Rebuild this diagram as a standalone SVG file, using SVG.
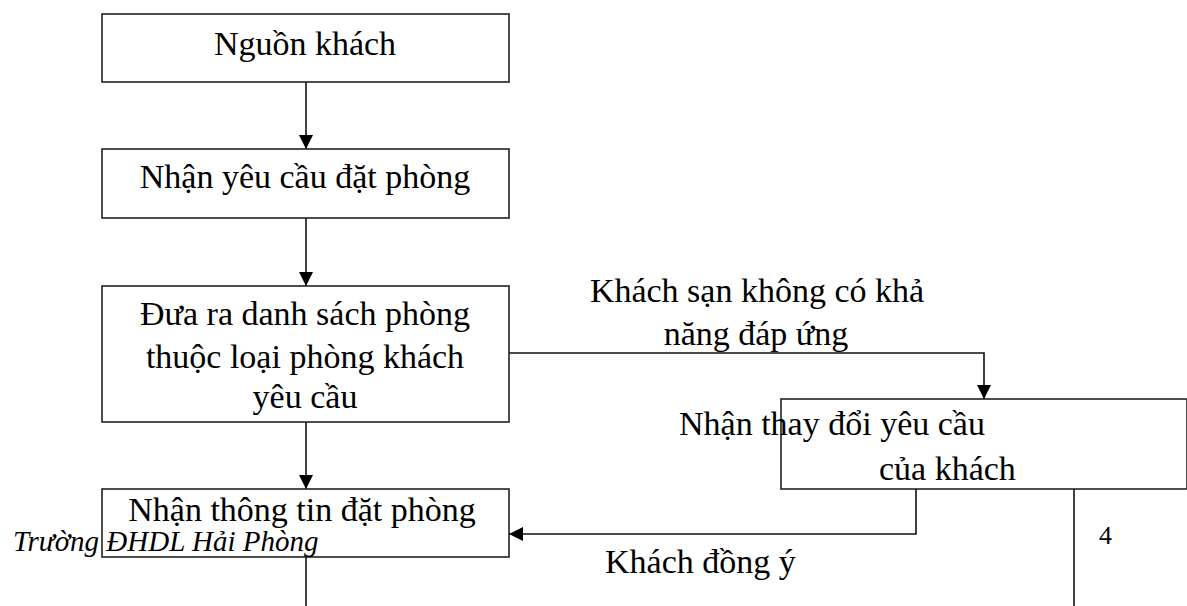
<svg xmlns="http://www.w3.org/2000/svg" width="1187" height="606" viewBox="0 0 1187 606">
  <style>
    .box { fill: #ffffff; stroke: #222222; stroke-width: 1.6; }
    .link { fill: none; stroke: #111111; stroke-width: 1.6; }
    .t { font-family: "Liberation Serif", "Times New Roman", serif; font-size: 34px; fill: #000000; }
    .mid { text-anchor: middle; }
    .foot { font-family: "Liberation Serif", "Times New Roman", serif; font-size: 29px; font-style: italic; fill: #000000; }
    .num { font-family: "Liberation Serif", "Times New Roman", serif; font-size: 26px; fill: #000000; }
  </style>
  <defs>
    <marker id="arrow" markerUnits="userSpaceOnUse" markerWidth="14" markerHeight="14" viewBox="0 0 14 14" refX="14" refY="7" orient="auto">
      <path d="M0,0 L14,7 L0,14 Z" fill="#000000"/>
    </marker>
  </defs>

  <rect width="1187" height="606" fill="#ffffff"/>

  <!-- connectors -->
  <g id="connectors">
    <line class="link" x1="306" y1="82" x2="306" y2="149" marker-end="url(#arrow)"/>
    <line class="link" x1="306" y1="218" x2="306" y2="286" marker-end="url(#arrow)"/>
    <line class="link" x1="306" y1="422" x2="306" y2="489" marker-end="url(#arrow)"/>
    <polyline class="link" points="509,353 984,353 984,399" marker-end="url(#arrow)"/>
    <polyline class="link" points="916,489 916,534 509,534" marker-end="url(#arrow)"/>
    <line class="link" x1="306" y1="557" x2="306" y2="606"/>
    <line class="link" x1="1074" y1="489" x2="1074" y2="606"/>
  </g>

  <!-- edge labels -->
  <g id="labels">
    <text class="t mid" x="757" y="302">Khách sạn không có khả</text>
    <text class="t mid" x="756" y="345">năng đáp ứng</text>
    <text class="t" x="605" y="573">Khách đồng ý</text>
  </g>

  <g id="node-nguon-khach">
    <rect class="box" x="102" y="14" width="407" height="68"/>
    <text class="t mid" x="305" y="55">Nguồn khách</text>
  </g>

  <g id="node-nhan-yeu-cau">
    <rect class="box" x="102" y="149" width="407" height="69"/>
    <text class="t mid" x="305" y="188">Nhận yêu cầu đặt phòng</text>
  </g>

  <g id="node-danh-sach-phong">
    <rect class="box" x="102" y="286" width="407" height="136"/>
    <text class="t mid" x="305" y="325">Đưa ra danh sách phòng</text>
    <text class="t mid" x="305" y="368">thuộc loại phòng khách</text>
    <text class="t mid" x="305" y="408">yêu cầu</text>
  </g>

  <g id="node-thay-doi">
    <rect class="box" x="781" y="399" width="406" height="90"/>
    <text class="t" x="679" y="435">Nhận thay đổi yêu cầu</text>
    <text class="t" x="879" y="480">của khách</text>
  </g>

  <g id="node-thong-tin-dat-phong">
    <rect class="box" x="102" y="489" width="407" height="68"/>
    <text class="t mid" x="302" y="521">Nhận thông tin đặt phòng</text>
  </g>

  <!-- page footer -->
  <g id="footer">
    <text class="foot" x="13" y="551">Trường ĐHDL Hải Phòng</text>
    <text class="num" x="1099" y="544">4</text>
  </g>
</svg>
